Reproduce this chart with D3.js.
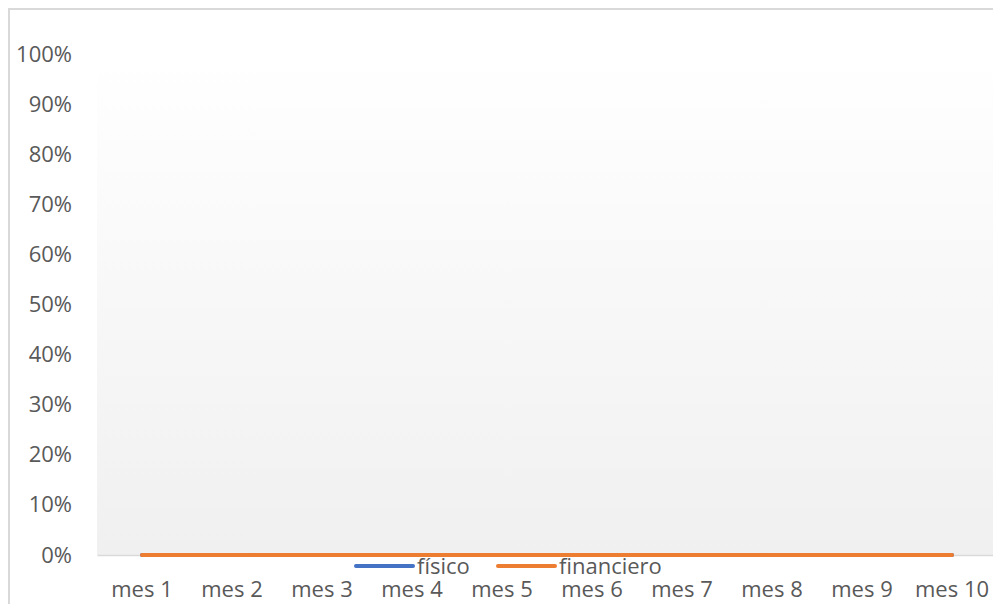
<!DOCTYPE html>
<html>
<head>
<meta charset="utf-8">
<script src="https://cdn.jsdelivr.net/npm/d3@7"></script>
<style>
  body { margin: 0; background: #fff; }
  svg { display: block; font-family: "Open Sans", sans-serif; }
</style>
</head>
<body>
<div id="chart"></div>
<script>
const months = ["mes 1", "mes 2", "mes 3", "mes 4", "mes 5", "mes 6", "mes 7", "mes 8", "mes 9", "mes 10"]
const fisico = [0, 0, 0, 0, 0, 0, 0, 0, 0, 0]
const financiero = [0, 0, 0, 0, 0, 0, 0, 0, 0, 0]
const yTicks = [0, 0.1, 0.2, 0.3, 0.4, 0.5, 0.6, 0.7, 0.8, 0.9, 1]

const series = [
    {name: "físico", values: fisico, color: "#4472C4"},
    {name: "financiero", values: financiero, color: "#ED7D31"}
]

const W = 993, H = 604
const margin = {top: 54, right: -4, bottom: 49, left: 97}
const width = W - margin.left - margin.right,
    height = H - margin.top - margin.bottom

let svg = d3.select("#chart").append("svg")
    .attr("width", W)
    .attr("height", H)

// chart border
svg.append("rect")
    .attr("x", 9).attr("y", 9)
    .attr("width", W + 10).attr("height", H + 10)
    .attr("fill", "#fff")
    .attr("stroke", "#d9d9d9")
    .attr("stroke-width", 2)

let grad = svg.append("defs").append("linearGradient")
    .attr("id", "bg").attr("x1", 0).attr("y1", 0).attr("x2", 0).attr("y2", 1)
grad.append("stop").attr("offset", "0%").attr("stop-color", "#ffffff")
grad.append("stop").attr("offset", "100%").attr("stop-color", "#f0f0f0")

let g = svg.append("g").attr("transform", "translate(" + margin.left + "," + margin.top + ")")

let x = d3.scaleBand().domain(months).range([0, width])
let y = d3.scaleLinear().domain([0, 1]).range([height, 0])

g.append("rect")
    .attr("x", 0).attr("y", 0)
    .attr("width", width).attr("height", height)
    .attr("fill", "url(#bg)")

// y axis labels
let yAxis = g.append("g")
    .call(d3.axisLeft(y).tickValues(yTicks).tickFormat(d3.format(".0%")).tickSize(0).tickPadding(25))
yAxis.select(".domain").remove()
yAxis.selectAll("text")
    .attr("fill", "#595959")
    .attr("font-size", "22px")
    .attr("font-family", "Open Sans, sans-serif")

// x axis
let xAxis = g.append("g")
    .attr("transform", "translate(0," + height + ")")
    .call(d3.axisBottom(x).tickSize(0).tickPadding(26))
xAxis.select(".domain").attr("stroke", "#d9d9d9").attr("stroke-width", 1.5)
xAxis.selectAll("text")
    .attr("fill", "#595959")
    .attr("font-size", "22px")
    .attr("font-family", "Open Sans, sans-serif")

let line = d3.line()
    .x((d, i) => x(months[i]) + x.bandwidth() / 2)
    .y(d => y(d))

g.selectAll(".series")
    .data(series)
    .enter()
    .append("path")
    .attr("class", "series")
    .attr("d", d => line(d.values))
    .attr("fill", "none")
    .attr("stroke", d => d.color)
    .attr("stroke-width", 4)
    .attr("stroke-linecap", "round")

// legend
let legendX = [356, 498]
let legend = svg.selectAll(".legend")
    .data(series)
    .enter()
    .append("g")
    .attr("class", "legend")
    .attr("transform", (d, i) => "translate(" + legendX[i] + ",566)")

legend.append("line")
    .attr("x1", 0).attr("x2", 57)
    .attr("stroke", d => d.color)
    .attr("stroke-width", 4)
    .attr("stroke-linecap", "round")

legend.append("text")
    .attr("x", 61)
    .attr("dy", "0.35em")
    .attr("fill", "#595959")
    .attr("font-size", "22px")
    .text(d => d.name)
</script>
</body>
</html>
